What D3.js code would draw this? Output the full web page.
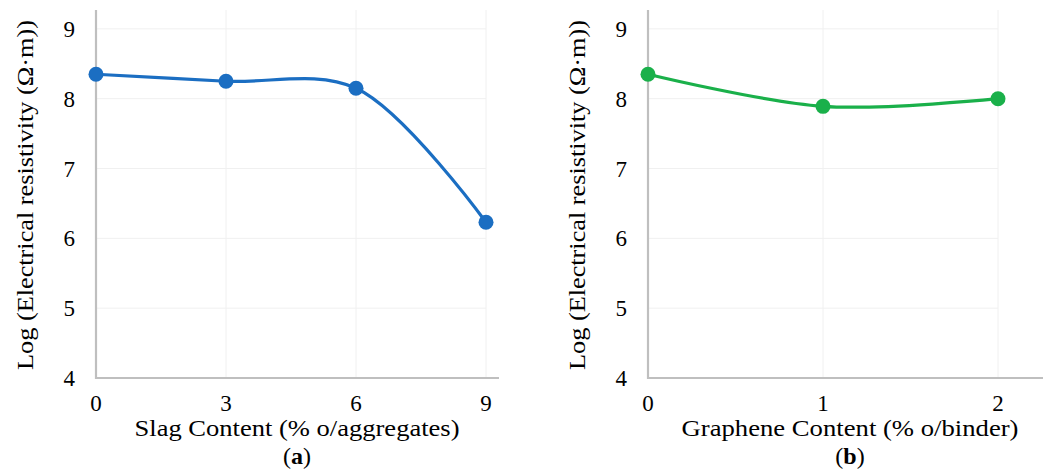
<!DOCTYPE html>
<html>
<head>
<meta charset="utf-8">
<script src="https://cdn.jsdelivr.net/npm/d3@7"></script>
<style>
  body { margin: 0; background: #fff; }
</style>
</head>
<body>
<div id="chart"></div>
<script>
// panel (a)
var slagX = [0, 3, 6, 9];
var slagY = [8.35, 8.25, 8.15, 6.23];
// panel (b)
var grapheneX = [0, 1, 2];
var grapheneY = [8.35, 7.89, 8.0];

var yTicks = [4, 5, 6, 7, 8, 9];

var FONT = "'Liberation Serif', 'DejaVu Serif', serif";
var W = 1043, H = 472;
var svg = d3.select("#chart").append("svg")
    .attr("width", W)
    .attr("height", H)
    .attr("font-family", FONT);

function drawPanel(opts) {
    var g = svg.append("g");
    var x = d3.scaleLinear().domain(opts.xDomain).range([opts.left, opts.right]);
    var y = d3.scaleLinear().domain([4, 9.27]).range([378, 10]);

    // gridlines
    g.selectAll("line.hgrid")
        .data(yTicks.slice(1))
        .enter().append("line")
        .attr("class", "hgrid")
        .attr("x1", opts.left).attr("x2", opts.right)
        .attr("y1", function (d) { return y(d); })
        .attr("y2", function (d) { return y(d); })
        .style("stroke", "#f0f0f0").style("stroke-width", 1);

    g.selectAll("line.vgrid")
        .data(opts.xTicks.slice(1))
        .enter().append("line")
        .attr("class", "vgrid")
        .attr("x1", function (d) { return x(d); })
        .attr("x2", function (d) { return x(d); })
        .attr("y1", 10).attr("y2", 378)
        .style("stroke", "#f0f0f0").style("stroke-width", 1);

    // axis lines
    g.append("line")
        .attr("x1", opts.left).attr("x2", opts.left)
        .attr("y1", 10).attr("y2", 379)
        .style("stroke", "#bfbfbf").style("stroke-width", 2.2);
    g.append("line")
        .attr("x1", opts.left - 1).attr("x2", opts.axisEnd)
        .attr("y1", 378).attr("y2", 378)
        .style("stroke", "#bfbfbf").style("stroke-width", 2.2);

    // tick labels
    g.selectAll("text.ytick")
        .data(yTicks)
        .enter().append("text")
        .attr("class", "ytick")
        .attr("x", opts.left - 21)
        .attr("y", function (d) { return y(d) + 8; })
        .attr("text-anchor", "end")
        .style("font-size", "23px")
        .text(function (d) { return d; });

    g.selectAll("text.xtick")
        .data(opts.xTicks)
        .enter().append("text")
        .attr("class", "xtick")
        .attr("x", function (d) { return x(d); })
        .attr("y", 411)
        .attr("text-anchor", "middle")
        .style("font-size", "23px")
        .text(function (d) { return d; });

    // titles
    g.append("text")
        .attr("x", opts.titleX).attr("y", 436)
        .attr("text-anchor", "middle")
        .attr("textLength", opts.xTitleLen)
        .attr("lengthAdjust", "spacingAndGlyphs")
        .style("font-size", "23px")
        .text(opts.xTitle);

    var lab = g.append("text")
        .attr("x", opts.titleX).attr("y", 464)
        .attr("text-anchor", "middle")
        .style("font-size", "24px");
    lab.append("tspan").text("(");
    lab.append("tspan").style("font-weight", "bold").text(opts.tag);
    lab.append("tspan").text(")");

    g.append("text")
        .attr("transform", "translate(" + opts.yTitleX + ",195) rotate(-90)")
        .attr("text-anchor", "middle")
        .attr("textLength", 350)
        .attr("lengthAdjust", "spacingAndGlyphs")
        .style("font-size", "24px")
        .text("Log (Electrical resistivity (\u03A9\u00B7m))");

    // line + points
    var pts = opts.xs.map(function (d, i) { return [d, opts.ys[i]]; });
    var line = d3.line()
        .x(function (d) { return x(d[0]); })
        .y(function (d) { return y(d[1]); })
        .curve(d3.curveCatmullRom.alpha(0.5));

    g.append("path")
        .datum(pts)
        .attr("d", line)
        .style("fill", "none")
        .style("stroke", opts.color)
        .style("stroke-width", 3.2);

    g.selectAll("circle")
        .data(pts)
        .enter().append("circle")
        .attr("cx", function (d) { return x(d[0]); })
        .attr("cy", function (d) { return y(d[1]); })
        .attr("r", 7.5)
        .style("fill", opts.color);
}

drawPanel({
    xs: slagX, ys: slagY, xTicks: slagX,
    xDomain: [0, 9], left: 96, right: 486, axisEnd: 499, color: "#1b6ec2",
    xTitle: "Slag Content (% o/aggregates)", xTitleLen: 325, tag: "a",
    titleX: 297, yTitleX: 33
});

drawPanel({
    xs: grapheneX, ys: grapheneY, xTicks: grapheneX,
    xDomain: [0, 2], left: 648, right: 998, axisEnd: 1043, color: "#1ab04a",
    xTitle: "Graphene Content (% o/binder)", xTitleLen: 337, tag: "b",
    titleX: 850, yTitleX: 585
});
</script>
</body>
</html>
